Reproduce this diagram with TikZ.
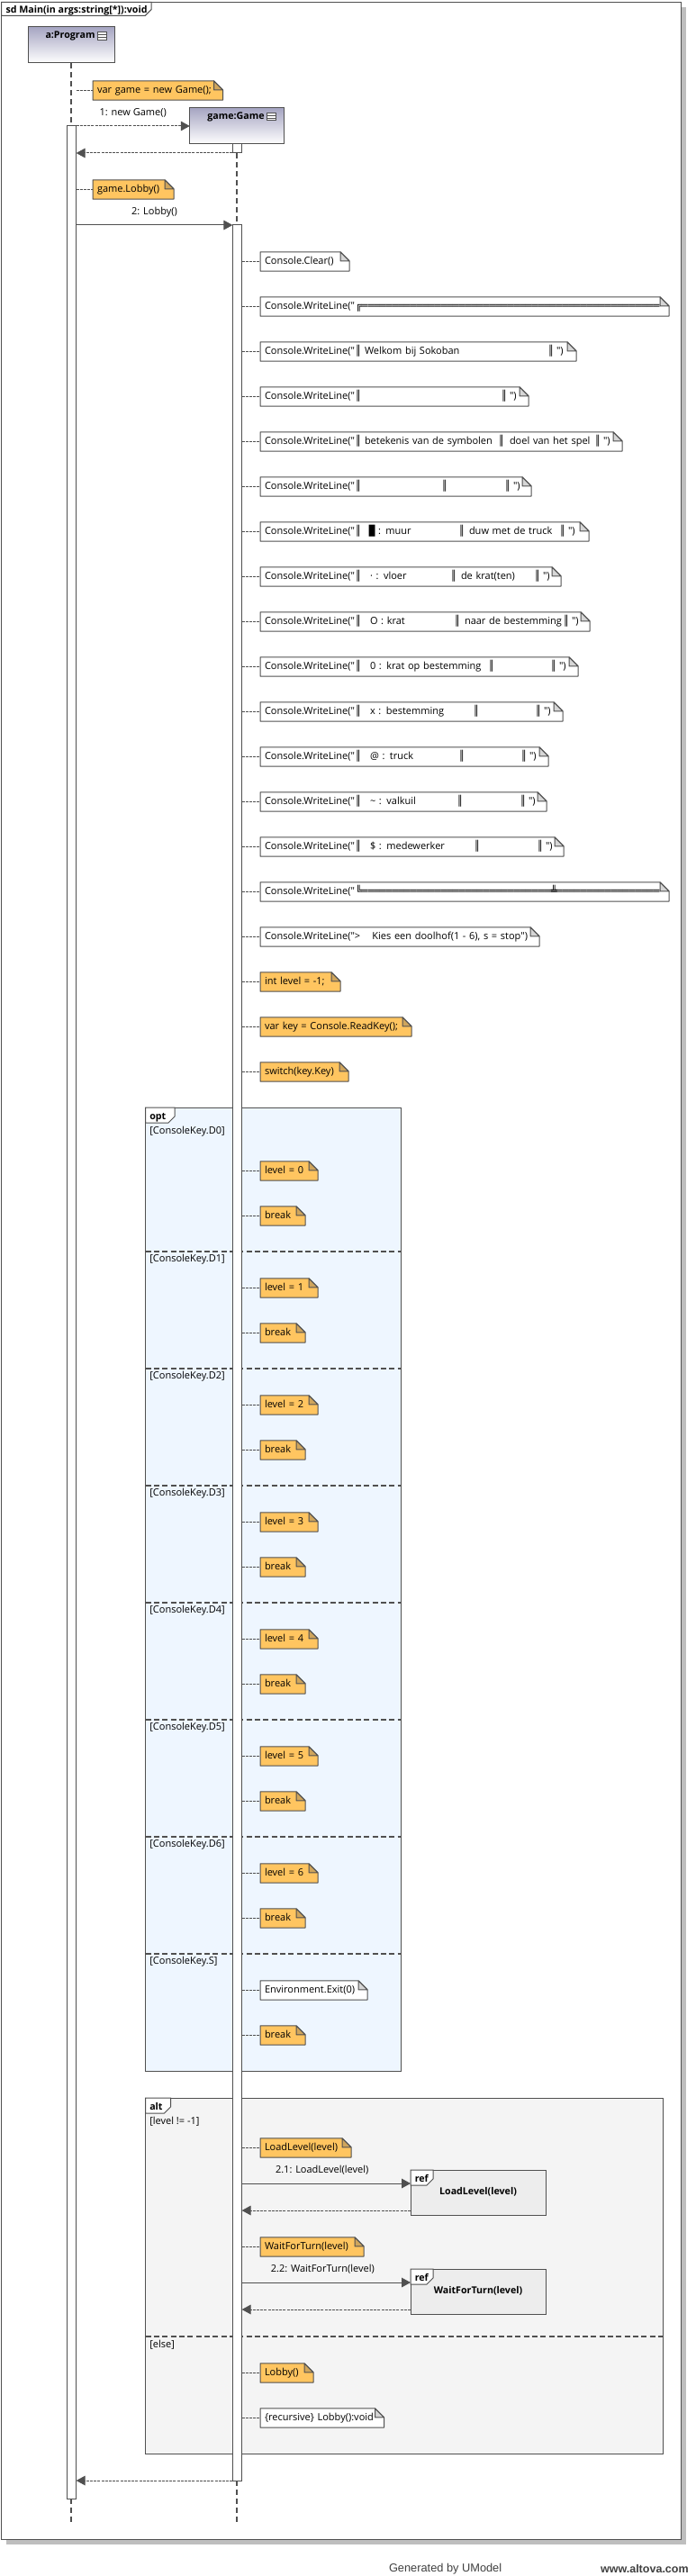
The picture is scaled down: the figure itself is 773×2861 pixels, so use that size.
\documentclass[tikz,border=0pt]{standalone}
\usepackage{fontspec}
\setmainfont{Open Sans}[Ligatures=TeXOff]
\newfontfamily\boxfont{DejaVu Sans Mono}
\newfontfamily\footfont{Liberation Sans}
\usetikzlibrary{arrows.meta,positioning,shadows}

\definecolor{umlline}{HTML}{505050}
\definecolor{umlhead}{HTML}{A6A5C2}
\definecolor{shadowgrey}{HTML}{BEBEBE}
\definecolor{noteorange}{HTML}{FFC560}
\definecolor{foldorange}{HTML}{CFA55C}
\definecolor{foldgrey}{HTML}{D6D6D6}
\definecolor{optfill}{HTML}{EEF6FF}
\definecolor{altfill}{HTML}{F4F4F4}
\definecolor{reffill}{HTML}{EDEDED}
\definecolor{footgrey}{HTML}{404040}

\tikzset{fold colour/.store in=\notefoldcolor, fold colour=foldgrey}

\makeatletter
\pgfdeclareshape{umlnote}{
	\inheritsavedanchors[from=rectangle]
	\inheritanchorborder[from=rectangle]
	\inheritanchor[from=rectangle]{center}
	\inheritanchor[from=rectangle]{text}
	\inheritanchor[from=rectangle]{west}
	\inheritanchor[from=rectangle]{east}
	\backgroundpath{
		\southwest \pgf@xa=\pgf@x \pgf@ya=\pgf@y
		\northeast \pgf@xb=\pgf@x \pgf@yb=\pgf@y
		\pgf@xc=\pgf@xb \advance\pgf@xc by -7.5pt
		\pgf@yc=\pgf@yb \advance\pgf@yc by -7.5pt
		\pgfpathmoveto{\pgfqpoint{\pgf@xa}{\pgf@ya}}
		\pgfpathlineto{\pgfqpoint{\pgf@xa}{\pgf@yb}}
		\pgfpathlineto{\pgfqpoint{\pgf@xc}{\pgf@yb}}
		\pgfpathlineto{\pgfqpoint{\pgf@xb}{\pgf@yc}}
		\pgfpathlineto{\pgfqpoint{\pgf@xb}{\pgf@ya}}
		\pgfpathclose
	}
	\beforebackgroundpath{
		\northeast \pgf@xb=\pgf@x \pgf@yb=\pgf@y
		\pgf@xc=\pgf@xb \advance\pgf@xc by -7.5pt
		\pgf@yc=\pgf@yb \advance\pgf@yc by -7.5pt
		\pgfsetfillcolor{\notefoldcolor}
		\pgfsetstrokecolor{umlline}
		\pgfsetlinewidth{.75pt}
		\pgfsetbeveljoin
		\pgfpathmoveto{\pgfqpoint{\pgf@xc}{\pgf@yb}}
		\pgfpathlineto{\pgfqpoint{\pgf@xb}{\pgf@yc}}
		\pgfpathlineto{\pgfqpoint{\pgf@xc}{\pgf@yc}}
		\pgfpathclose
		\pgfusepath{fill,stroke}
	}
}
\makeatother

\newdimen\pxu
\pxu=.75pt
\newcommand{\notecol}[2]{\rlap{\hspace{#1\pxu}#2}}
\newcommand{\vbar}[1]{\rlap{\hspace{#1\pxu}\hspace{-2.5pt}\boxfont ║}}
\newcommand{\rowend}[1]{\vbar{#1}\rlap{\hspace{#1\pxu}\hspace{6\pxu}")}}
\newcommand{\cwl}{\notecol{0}{Console.WriteLine("}\vbar{104}}
\newcommand{\fragtab}[4]{
	\draw[tabline] (#1.north west) -- ++(#2,0) -- ++(0,#3-7) -- ++(-7,7) -- ++(7-#2,0) -- cycle;
	\node[tabtext] (#1Tag) at ([xshift=3.6pt,yshift=-#3*.46pt]#1.north west) {#4};
}

\begin{document}
\begin{tikzpicture}[
		x=.75pt, y=-.75pt
		,every node/.append style={outer sep=0pt, inner sep=0pt, text=black}
		,uml/.style={font=\fontsize{8.25}{10}\selectfont, text height=6.2pt, text depth=2pt}
		,size/.style 2 args={minimum width=#1*.75pt, minimum height=#2*.75pt}
		,note/.style={shape=umlnote, uml, draw=umlline, line width=.75pt, line join=bevel, anchor=west, inner xsep=3.75pt, minimum height=16pt, text width=(#1-10)*.75pt}
		,wnote/.style={note=#1, fill=white, fold colour=foldgrey}
		,onote/.style={note=#1, fill=noteorange, fold colour=foldorange}
		,link/.style={draw=umlline, line width=.75pt, dash pattern=on 2.25pt off .9pt}
		,lifeline/.style={draw=umlline, line width=1.5pt, dash pattern=on 4.5pt off 3pt}
		,divider/.style={draw=umlline, line width=1.5pt, dash pattern=on 4.5pt off 2.5pt}
		,msg/.style={draw=umlline, line width=.75pt, -{Triangle[length=7.5pt,width=8pt]}}
		,ret/.style={msg, dash pattern=on 2.25pt off .9pt}
		,msglabel/.style={uml, above=6.5pt, midway}
		,head/.style={draw=umlline, line width=.75pt, top color=umlhead, bottom color=white}
		,headtext/.style={uml, font=\fontsize{8}{10}\selectfont\bfseries}
		,icon/.style={draw=umlline, line width=.75pt, fill=white, size={10.5}{8.5}, path picture={
			\draw[umlline, line width=.5pt] ([yshift=-2pt]path picture bounding box.north west) -- ([yshift=-2pt]path picture bounding box.north east);
			\draw[umlline, line width=.5pt] ([yshift=2pt]path picture bounding box.south west) -- ([yshift=2pt]path picture bounding box.south east);
		}}
		,bar/.style={draw=umlline, line width=.75pt, fill=white, anchor=north, minimum width=10.3*.75pt}
		,frag/.style={draw=umlline, line width=.75pt, anchor=north west}
		,tabline/.style={draw=umlline, line width=.75pt, fill=white}
		,tabtext/.style={uml, anchor=west, font=\fontsize{8}{10}\selectfont\bfseries}
		,guard/.style={uml, anchor=west}
		,refbox/.style={frag, fill=reffill, size={150}{50}, uml, font=\fontsize{8}{10}\selectfont\bfseries}
		,foot/.style={anchor=west, text=footgrey}
	]
	\useasboundingbox (0,0) rectangle (773,2861);

	\node[frag, fill=white, size={754.8}{2818}, copy shadow={shadow xshift=4pt, shadow yshift=-4pt, fill=shadowgrey, draw=none}] (main) at (1.7,2.5) {};
	\fragtab{main}{166.5}{15}{sd Main(in args:string[*]):void}

	\node[frag, fill=optfill, size={283.5}{1070}] (opt) at (161.5,1230) {};
	\node[frag, fill=altfill, size={574.5}{395}] (alt) at (161.5,2330) {};
	\fragtab{opt}{32.5}{17}{opt}
	\fragtab{alt}{28}{17}{alt}

	\foreach \k/\y in {0/1257,1/1399,2/1529,3/1659,4/1789,5/1919,6/2049}
		\node[guard] (guardD\k) at (166.3,\y) {[ConsoleKey.D\k]};
	\node[guard] (guardS) at (166.3,2179) {[ConsoleKey.S]};
	\node[guard] (guardLevel) at (166.3,2357) {[level != -1]};
	\node[guard] (guardElse) at (166.3,2605) {[else]};

	\foreach \y in {1390,1520,1650,1780,1910,2040,2170}
		\draw[divider] (opt.west |- 0,\y) -- (opt.east |- 0,\y);
	\draw[divider] (alt.west |- 0,2595) -- (alt.east |- 0,2595);

	\node[head, size={96}{40}] (program) at (79,50) {};
	\node[headtext] (programName) at (78,39.5) {a:Program};
	\node[icon] (programIcon) at (113.5,40) {};
	\node[head, size={104.5}{40}] (game) at (263,140) {};
	\node[headtext] (gameName) at (262,129.5) {game:Game};
	\node[icon] (gameIcon) at (301.5,129.5) {};

	\node[bar, minimum height=2635*.75pt] (programBar) at (79.5,140) {};
	\node[bar, minimum height=10*.75pt] (gameInit) at (263.5,160) {};
	\node[bar, minimum height=2505*.75pt] (lobbyBar) at (263.5,250) {};
	\coordinate (programEnd) at (79,2803);
	\coordinate (gameEnd) at (263,2805);
	\draw[lifeline] (program.south) -- (79,140);
	\draw[lifeline] (programBar.south -| programEnd) -- (programEnd);
	\draw[lifeline] (gameInit.south -| gameEnd) -- (lobbyBar.north -| gameEnd);
	\draw[lifeline] (lobbyBar.south -| gameEnd) -- (gameEnd);

	\node[onote=144.5] (newGameNote) at (103,100.5) {var game = new Game();};
	\node[onote=90] (lobbyNote) at (103,210.5) {game.Lobby()};
	\draw[link] (programBar.east |- newGameNote.west) -- (newGameNote.west);
	\draw[link] (programBar.east |- lobbyNote.west) -- (lobbyNote.west);

	\draw[ret] (programBar.east |- game.west) -- node[msglabel] (newLabel) {1: new Game()} (game.west);
	\draw[ret] (gameInit.south west) -- (programBar.east |- gameInit.south);
	\draw[msg] (programBar.east |- lobbyBar.north) -- node[msglabel] (lobbyLabel) {2: Lobby()} (lobbyBar.north west);
	\draw[ret] (lobbyBar.south west) -- (programBar.east |- lobbyBar.south);

	\node[wnote=99] (clear) at (289,290.5) {Console.Clear()};
	\node[wnote=454] (top) at (289,340.5) {\notecol{0}{Console.WriteLine("}\notecol{101}{\boxfont ╔\xleaders\hbox{═}\hskip 331\pxu}};
	\node[wnote=351] (welcome) at (289,390.5) {\cwl\notecol{111}{Welkom bij Sokoban}\rowend{318}};
	\node[wnote=298] (blank) at (289,440.5) {\cwl\rowend{266}};
	\node[wnote=402] (titles) at (289,490.5) {\cwl\notecol{111}{betekenis van de symbolen}\vbar{263}\notecol{272}{doel van het spel}\rowend{370}};
	\node[wnote=301] (blanktwo) at (289,540.5) {\cwl\vbar{200}\rowend{270}};
	\node[wnote=365] (wall) at (289,590.5) {\cwl\notecol{116}{\boxfont █}\notecol{126}{: muur}\vbar{219}\notecol{227}{duw met de truck}\rowend{331}};
	\node[wnote=334] (floor) at (289,640.5) {\cwl\notecol{117}{· : vloer}\vbar{210}\notecol{218}{de krat(ten)}\rowend{303}};
	\node[wnote=366] (crate) at (289,690.5) {\cwl\notecol{117}{O : krat}\vbar{214}\notecol{222}{naar de bestemming}\rowend{335}};
	\node[wnote=353] (crateon) at (289,740.5) {\cwl\notecol{117}{0 : krat op bestemming}\vbar{252}\rowend{321}};
	\node[wnote=336] (goal) at (289,790.5) {\cwl\notecol{117}{x : bestemming}\vbar{235}\rowend{304}};
	\node[wnote=320] (truck) at (289,840.5) {\cwl\notecol{117}{@ : truck}\vbar{219}\rowend{288}};
	\node[wnote=318] (pit) at (289,890.5) {\cwl\notecol{117}{\textasciitilde{} : valkuil}\vbar{217}\rowend{287}};
	\node[wnote=337] (mate) at (289,940.5) {\cwl\notecol{117}{\$ : medewerker}\vbar{236}\rowend{306}};
	\node[wnote=454] (bottom) at (289,990.5) {\notecol{0}{Console.WriteLine("}\notecol{101}{\boxfont ╚\xleaders\hbox{═}\hskip 331\pxu}\notecol{318}{\boxfont ╩}};
	\node[wnote=310] (ask) at (289,1040.5) {Console.WriteLine(">\hspace{1.2em}Kies een doolhof(1 - 6), s = stop")};
	\node[onote=89] (levelInit) at (289,1090.5) {int level = -1;};
	\node[onote=168] (readKey) at (289,1140.5) {var key = Console.ReadKey();};
	\node[onote=98] (switchKey) at (289,1190.5) {switch(key.Key)};
	\foreach \n in {clear,top,welcome,blank,titles,blanktwo,wall,floor,crate,crateon,goal,truck,pit,mate,bottom,ask,levelInit,readKey,switchKey}
		\draw[link] (lobbyBar.east |- \n.west) -- (\n.west);

	\foreach \k in {0,...,6} {
		\pgfmathsetmacro{\y}{1300.5+130*\k}
		\node[onote=64] (level\k) at (289,\y) {level = \k};
		\node[onote=50] (break\k) at (289,\y+50) {break};
		\draw[link] (lobbyBar.east |- level\k.west) -- (level\k.west);
		\draw[link] (lobbyBar.east |- break\k.west) -- (break\k.west);
	}
	\node[wnote=119] (exit) at (289,2210.5) {Environment.Exit(0)};
	\node[onote=50] (breakS) at (289,2260.5) {break};
	\node[onote=101] (loadNote) at (289,2385.5) {LoadLevel(level)};
	\node[onote=115] (waitNote) at (289,2495.5) {WaitForTurn(level)};
	\node[onote=59] (lobbyAgain) at (289,2635.5) {Lobby()};
	\node[wnote=137.5] (recursive) at (289,2685.5) {\{recursive\} Lobby():void};
	\foreach \n in {exit,breakS,loadNote,waitNote,lobbyAgain,recursive}
		\draw[link] (lobbyBar.east |- \n.west) -- (\n.west);

	\node[refbox] (loadRef) at (456,2410) {LoadLevel(level)};
	\node[refbox] (waitRef) at (456,2520) {WaitForTurn(level)};
	\fragtab{loadRef}{25}{17}{ref}
	\fragtab{waitRef}{25}{17}{ref}
	\coordinate (loadCall) at (456,2425);
	\coordinate (loadBack) at (456,2455);
	\coordinate (waitCall) at (456,2535);
	\coordinate (waitBack) at (456,2565);
	\draw[msg] (lobbyBar.east |- loadCall) -- node[msglabel, xshift=-3.5pt] (loadLabel) {2.1: LoadLevel(level)} (loadCall);
	\draw[ret] (loadBack) -- (lobbyBar.east |- loadBack);
	\draw[msg] (lobbyBar.east |- waitCall) -- node[msglabel, xshift=-3pt] (waitLabel) {2.2: WaitForTurn(level)} (waitCall);
	\draw[ret] (waitBack) -- (lobbyBar.east |- waitBack);

	\node[foot, font=\footfont\fontsize{9.6}{11}\selectfont] (umodel) at (432,2853) {Generated by UModel};
	\node[foot, font=\footfont\bfseries\fontsize{9.4}{11}\selectfont] (altova) at (667,2853) {www.altova.com};
\end{tikzpicture}
\end{document}
